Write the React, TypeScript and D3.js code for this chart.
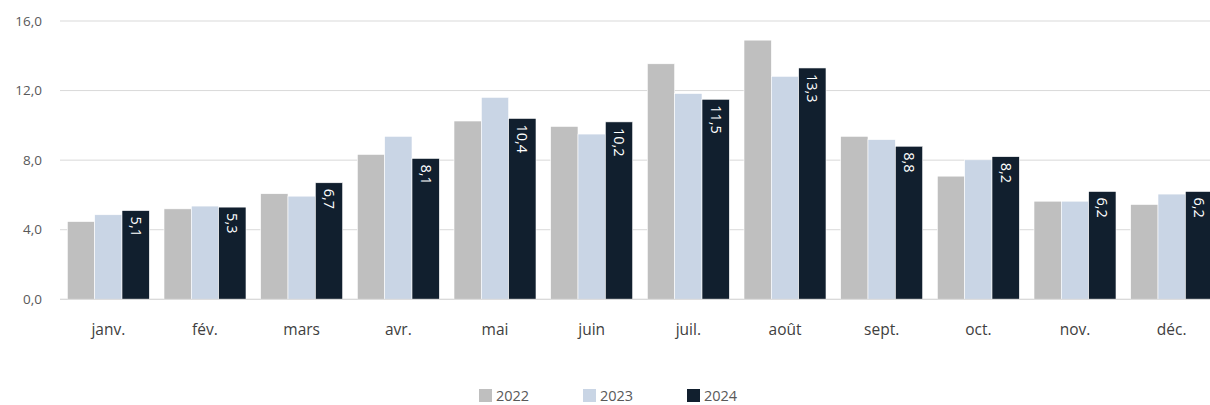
import React from "react";
import * as d3 from "d3";

const months = ["janv.", "fév.", "mars", "avr.", "mai", "juin", "juil.", "août", "sept.", "oct.", "nov.", "déc."];
const years = ["2022", "2023", "2024"];
const values2022 = [4.47, 5.2, 6.07, 8.33, 10.25, 9.94, 13.54, 14.9, 9.37, 7.08, 5.64, 5.45];
const values2023 = [4.86, 5.36, 5.93, 9.37, 11.61, 9.5, 11.83, 12.82, 9.18, 8.02, 5.64, 6.05];
const values2024 = [5.1, 5.3, 6.7, 8.1, 10.4, 10.2, 11.5, 13.3, 8.8, 8.2, 6.2, 6.2];
const yTicks = [0, 4, 8, 12, 16];
const colors = ["#bfbfbf", "#c9d5e5", "#111f2e"];

const W = 1210;
const H = 405;
const FONT = "'Open Sans', sans-serif";

export default function App() {
  const series = [values2022, values2023, values2024];
  const x0 = d3.scaleBand<string>().domain(months).range([60, 1220]).paddingInner(0.1517).paddingOuter(0.0758);
  const x1 = d3.scaleBand<string>().domain(years).range([0, x0.bandwidth()]).padding(0);
  const y = d3.scaleLinear().domain([0, 16]).range([299.3, 21]);
  const fmt = (v: number) => v.toFixed(1).replace(".", ",");
  const legendX = [479, 583, 687];

  return (
    <svg width={W} height={H} style={{ display: "block", position: "absolute", left: 0, top: 0, background: "#fff" }} fontFamily={FONT}>
      {yTicks.map((t) => (
        <g key={t}>
          <line x1={60} x2={W} y1={y(t)} y2={y(t)} stroke="#d9d9d9" strokeWidth={1} />
          <text x={42} y={y(t)} dy="0.35em" textAnchor="end" fontSize={13.5} fill="#595959">
            {fmt(t)}
          </text>
        </g>
      ))}
      {months.map((m, i) => (
        <g key={m} transform={`translate(${x0(m)},0)`}>
          {years.map((yr, j) => {
            const v = series[j][i];
            return (
              <rect
                key={yr}
                x={x1(yr)}
                y={y(v)}
                width={x1.bandwidth()}
                height={y(0) - y(v)}
                fill={colors[j]}
                stroke="#ffffff"
                strokeWidth={0.6}
              />
            );
          })}
          {(() => {
            const v = series[2][i];
            const cx = (x1("2024") as number) + x1.bandwidth() / 2;
            const ty = y(v) + 6;
            return (
              <text
                transform={`translate(${cx},${ty}) rotate(90)`}
                dy="0.35em"
                textAnchor="start"
                fontSize={14.5}
                fill="#ffffff"
              >
                {fmt(v)}
              </text>
            );
          })()}
          <text x={x0.bandwidth() / 2} y={330} dy="0.35em" textAnchor="middle" fontSize={15.5} fill="#404040">
            {m}
          </text>
        </g>
      ))}
      <line x1={60} x2={W} y1={y(0)} y2={y(0)} stroke="#d9d9d9" strokeWidth={1} />
      {years.map((yr, j) => (
        <g key={yr} transform={`translate(${legendX[j]},389)`}>
          <rect x={0} y={0} width={13} height={13} fill={colors[j]} />
          <text x={17} y={6.5} dy="0.35em" fontSize={14.5} fill="#595959">
            {yr}
          </text>
        </g>
      ))}
    </svg>
  );
}
